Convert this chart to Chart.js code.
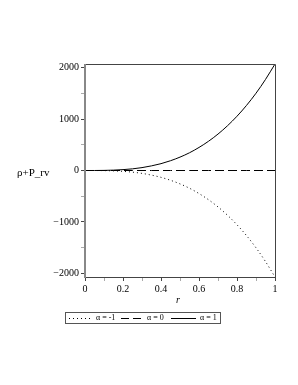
<!DOCTYPE html>
<html>
<head>
<meta charset="utf-8">
<script src="https://cdn.jsdelivr.net/npm/chart.js@4/dist/chart.umd.min.js"></script>
<style>
    html, body { margin: 0; padding: 0; background: #fff; }
    #wrap { position: relative; width: 298px; height: 385px; }
    #ytitle { position: absolute; left: 17px; top: 166px; font: 11px "Liberation Serif", serif; color: #000; white-space: nowrap; }
    #xtitle { position: absolute; left: 176px; top: 294px; font: italic 10px "Liberation Serif", serif; color: #000; }
    #legend {
        position: absolute; left: 65px; top: 312px; width: 156px; height: 12px;
        border: 1px solid #555; box-sizing: border-box;
        font: 8px "Liberation Serif", serif; color: #000;
    }
    #legend span { position: absolute; top: 0px; line-height: 10px; white-space: nowrap; }
    #legend i { position: absolute; top: 5px; height: 1px; }
    .dot { background: repeating-linear-gradient(90deg, #000 0 1px, transparent 1px 4px); }
    .dash { background: repeating-linear-gradient(90deg, #000 0 8px, transparent 8px 12px); }
    .solid { background: #000; }
</style>
</head>
<body>
<div id="wrap">
    <canvas id="chart" width="298" height="385"></canvas>
    <div id="ytitle">ρ+P_rv</div>
    <div id="xtitle">r</div>
    <div id="legend">
        <i class="dot" style="left:3px;width:22px"></i>
        <span style="left:30px">α = -1</span>
        <i class="dash" style="left:55px;width:20px"></i>
        <span style="left:81px">α = 0</span>
        <i class="solid" style="left:105px;width:25px"></i>
        <span style="left:134px">α = 1</span>
    </div>
</div>
<script>
const rValues = [0, 0.05, 0.1, 0.15, 0.2, 0.25, 0.3, 0.35, 0.4, 0.45, 0.5,
    0.55, 0.6, 0.65, 0.7, 0.75, 0.8, 0.85, 0.9, 0.95, 1];
const alphaPos = [0, 0.3, 2, 7, 17, 32, 56, 90, 133, 190, 260,
    345, 448, 568, 708, 870, 1055, 1265, 1502, 1770, 2070];
const alphaZero = [0, 0, 0, 0, 0, 0, 0, 0, 0, 0, 0,
    0, 0, 0, 0, 0, 0, 0, 0, 0, 0];
const alphaNeg = [0, -0.3, -2, -7, -17, -32, -56, -90, -133, -190, -260,
    -345, -448, -568, -708, -870, -1055, -1265, -1502, -1770, -2070];
const yLabels = [-2000, -1000, 0, 1000, 2000];
const xLabels = [0, 0.2, 0.4, 0.6, 0.8, 1];

function toPoints(vals) {
    return vals.map((v, i) => ({ x: rValues[i], y: v }));
}

const frame = {
    id: "frame",
    afterDraw(chart) {
        const { ctx, chartArea: a } = chart;
        ctx.save();
        ctx.lineWidth = 1;
        ctx.strokeStyle = "#444";
        ctx.beginPath();
        ctx.moveTo(a.left, a.top + 0.5);
        ctx.lineTo(a.right + 0.5, a.top + 0.5);
        ctx.lineTo(a.right + 0.5, a.bottom + 0.5);
        ctx.lineTo(a.left, a.bottom + 0.5);
        ctx.stroke();
        ctx.strokeStyle = "#888";
        ctx.lineWidth = 2;
        ctx.beginPath();
        ctx.moveTo(a.left, a.top);
        ctx.lineTo(a.left, a.bottom + 1);
        ctx.stroke();
        ctx.restore();
    }
};

const tickFont = { family: "Liberation Serif", size: 10 };
const isMajorY = v => yLabels.includes(v);
const isMajorX = v => xLabels.some(l => Math.abs(l - v) < 1e-6);

new Chart(document.getElementById("chart"), {
    type: "line",
    data: {
        datasets: [
            { label: "α = -1", data: toPoints(alphaNeg), borderDash: [1, 3] },
            { label: "α = 0", data: toPoints(alphaZero), borderDash: [9, 4] },
            { label: "α = 1", data: toPoints(alphaPos) }
        ]
    },
    options: {
        responsive: false,
        animation: false,
        events: [],
        layout: { padding: { top: 64, right: 23, bottom: 78, left: 0 } },
        elements: {
            point: { radius: 0 },
            line: { borderColor: "#000", borderWidth: 1, cubicInterpolationMode: "monotone" }
        },
        plugins: { legend: { display: false }, tooltip: { enabled: false } },
        scales: {
            x: {
                type: "linear",
                min: 0,
                max: 1,
                border: { display: false },
                grid: {
                    drawOnChartArea: false, tickLength: 4,
                    tickColor: c => isMajorX(c.tick.value) ? "#444" : "#aaa"
                },
                afterBuildTicks: s => {
                    s.ticks = [0, 0.1, 0.2, 0.3, 0.4, 0.5, 0.6, 0.7, 0.8, 0.9, 1].map(v => ({ value: v }));
                },
                afterFit: s => { s.height = 30; },
                ticks: {
                    padding: 2,
                    maxRotation: 0,
                    color: "#000",
                    font: tickFont,
                    callback: v => {
                        const hit = xLabels.find(l => Math.abs(l - v) < 1e-6);
                        return hit === undefined ? "" : String(hit);
                    }
                }
            },
            y: {
                min: -2070,
                max: 2070,
                border: { display: false },
                grid: {
                    drawOnChartArea: false, tickLength: 4,
                    tickColor: c => isMajorY(c.tick.value) ? "#444" : "#aaa"
                },
                afterBuildTicks: s => {
                    s.ticks = [-2000, -1500, -1000, -500, 0, 500, 1000, 1500, 2000].map(v => ({ value: v }));
                },
                afterFit: s => { s.width = 85; },
                ticks: {
                    padding: 2,
                    color: "#000",
                    font: tickFont,
                    callback: v => isMajorY(v) ? (v < 0 ? "\u2212" + Math.abs(v) : String(v)) : ""
                }
            }
        }
    },
    plugins: [frame]
});
</script>
</body>
</html>
